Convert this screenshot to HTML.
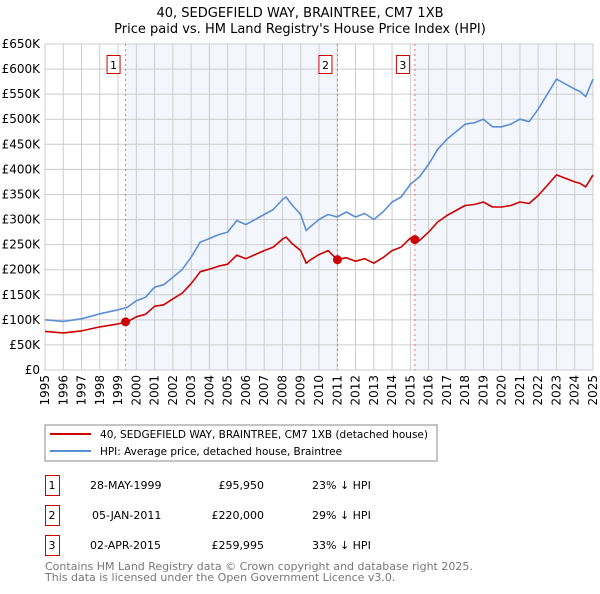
<!DOCTYPE html>
<html><head><meta charset="utf-8"><style>
body{margin:0;background:#fff;font-family:"DejaVu Sans","Liberation Sans",sans-serif;}
svg text{font-family:"DejaVu Sans","Liberation Sans",sans-serif;}
</style></head><body>
<svg id="c" width="600" height="590" xmlns="http://www.w3.org/2000/svg">
<text x="300" y="17" text-anchor="middle" font-size="13">40, SEDGEFIELD WAY, BRAINTREE, CM7 1XB</text>
<text x="300" y="33" text-anchor="middle" font-size="13">Price paid vs. HM Land Registry's House Price Index (HPI)</text>
<g id="plot"></g>
<rect x="45" y="425" width="392" height="36" fill="#fff" stroke="#888"/>
<line x1="50" y1="434" x2="91" y2="434" stroke="#cc0000" stroke-width="2"/>
<text x="100" y="438" font-size="11" textLength="328" lengthAdjust="spacingAndGlyphs">40, SEDGEFIELD WAY, BRAINTREE, CM7 1XB (detached house)</text>
<line x1="50" y1="451" x2="91" y2="451" stroke="#5b8fd4" stroke-width="2"/>
<text x="100" y="455" font-size="11" textLength="242" lengthAdjust="spacingAndGlyphs">HPI: Average price, detached house, Braintree</text>
<g font-size="11">
<rect x="45.5" y="475.5" width="14" height="20" fill="none" stroke="#cc0000"/><text x="52" y="489" text-anchor="middle">1</text>
<text x="90" y="489">28-MAY-1999</text><text x="264" y="489" text-anchor="end">£95,950</text><text x="312" y="489">23% ↓ HPI</text>
<rect x="45.5" y="505.5" width="14" height="20" fill="none" stroke="#cc0000"/><text x="52" y="519" text-anchor="middle">2</text>
<text x="92" y="519">05-JAN-2011</text><text x="264" y="519" text-anchor="end">£220,000</text><text x="312" y="519">29% ↓ HPI</text>
<rect x="45.5" y="535.5" width="14" height="20" fill="none" stroke="#cc0000"/><text x="52" y="549" text-anchor="middle">3</text>
<text x="90" y="549">02-APR-2015</text><text x="264" y="549" text-anchor="end">£259,995</text><text x="312" y="549">33% ↓ HPI</text>
</g>
<text x="45" y="570" font-size="11" fill="#777">Contains HM Land Registry data © Crown copyright and database right 2025.</text>
<text x="45" y="581" font-size="11" fill="#777">This data is licensed under the Open Government Licence v3.0.</text>
</svg>
<script>
const years=[1995,1996,1997,1998,1999,1999.5,2000,2000.5,2001,2001.5,2002,2002.5,2003,2003.5,2004,2004.5,2005,2005.5,2006,2006.5,2007,2007.5,2008,2008.2,2008.5,2009,2009.3,2009.5,2010,2010.5,2011,2011.5,2012,2012.5,2013,2013.5,2014,2014.5,2015,2015.5,2016,2016.5,2017,2017.5,2018,2018.5,2019,2019.5,2020,2020.5,2021,2021.5,2022,2022.5,2023,2023.5,2024,2024.3,2024.6,2025];
const hpi=[100,97,102,112,120,125,138,145,165,170,185,200,225,255,262,270,275,298,290,300,310,320,340,345,330,310,278,285,300,310,305,315,305,312,300,315,335,345,370,385,410,440,460,475,490,493,500,485,485,490,500,495,520,550,580,570,560,555,545,580];
const price=[77,74,78,86,92,96,106,111,127,130,142,153,172,196,201,207,211,229,222,230,238,245,261,265,253,238,213,219,230,238,220,224,217,222,213,224,238,245,263,258,275,295,308,318,328,330,335,325,325,328,335,332,348,368,389,382,375,372,365,389];
const saleYears=[1999.41,2011.01,2015.25];
const salePrices=[95.95,220,259.995];
const yTicks=[0,50,100,150,200,250,300,350,400,450,500,550,600,650];
const yLabels=["£0","£50K","£100K","£150K","£200K","£250K","£300K","£350K","£400K","£450K","£500K","£550K","£600K","£650K"];
const xTicks=[1995,1996,1997,1998,1999,2000,2001,2002,2003,2004,2005,2006,2007,2008,2009,2010,2011,2012,2013,2014,2015,2016,2017,2018,2019,2020,2021,2022,2023,2024,2025];
const X0=45,X1=593,Y0=370,Y1=44;
const sx=y=>X0+(y-1995)/30*(X1-X0);
const sy=v=>Y0-v/650*(Y0-Y1);
const NS="http://www.w3.org/2000/svg";
const g=document.getElementById('plot');
function mk(t,a,p){const e=document.createElementNS(NS,t);for(const k in a)e.setAttribute(k,a[k]);(p||g).appendChild(e);return e;}
let s1=mk('rect',{x:sx(saleYears[0]),y:Y1,width:sx(saleYears[1])-sx(saleYears[0]),height:Y0-Y1,fill:'#eef3fc',opacity:0.7});


let s2=mk('rect',{x:sx(saleYears[2]),y:Y1,width:X1-sx(saleYears[2]),height:Y0-Y1,fill:'#eef3fc',opacity:0.7});


yTicks.forEach((v,i)=>{
 let l=mk('line',{x1:X0,x2:X1,y1:sy(v),y2:sy(v),stroke:'#cccccc'});
 
 
 let t=mk('text',{x:40,y:sy(v)+4,'text-anchor':'end','font-size':12});
 
 
 t.textContent=yLabels[i];
});
xTicks.forEach(y=>{
 let l=mk('line',{x1:sx(y),x2:sx(y),y1:Y1,y2:Y0,stroke:'#cccccc'});
 
 
 let t=mk('text',{x:0,y:0,'text-anchor':'end','font-size':12,transform:`translate(${sx(y)+4},375) rotate(-90)`});
 
 
 t.textContent=y;
});
let ax=mk('rect',{x:X0,y:Y1,width:X1-X0,height:Y0-Y1,fill:'none',stroke:'#cccccc'});


saleYears.forEach((y,i)=>{
 let l=mk('line',{x1:sx(y),x2:sx(y),y1:Y1,y2:Y0,stroke:'#f07070','stroke-width':1,'stroke-dasharray':'2,3'});
 
 
 let r=mk('rect',{x:sx(y)-18.5,y:55.5,width:13,height:18,fill:'#fff',stroke:'#cc0000'});
 
 
 let t=mk('text',{x:sx(y)-12,y:69,'text-anchor':'middle','font-size':11});
 
 
 t.textContent=i+1;
});
function line(arr,col,name){
 let d=arr.map((v,i)=>(i?'L':'M')+sx(years[i]).toFixed(1)+','+sy(v).toFixed(1)).join('');
 let p=mk('path',{d:d,fill:'none',stroke:col,'stroke-width':1.6,'stroke-linejoin':'round'});
 
 
}
line(hpi,'#5b8fd4','hpi-line');
line(price,'#cc0000','price-line');
saleYears.forEach((y,i)=>{
 let c=mk('circle',{cx:sx(y),cy:sy(salePrices[i]),r:4.5,fill:'#cc0000'});
 
 
});
</script>
</body></html>
